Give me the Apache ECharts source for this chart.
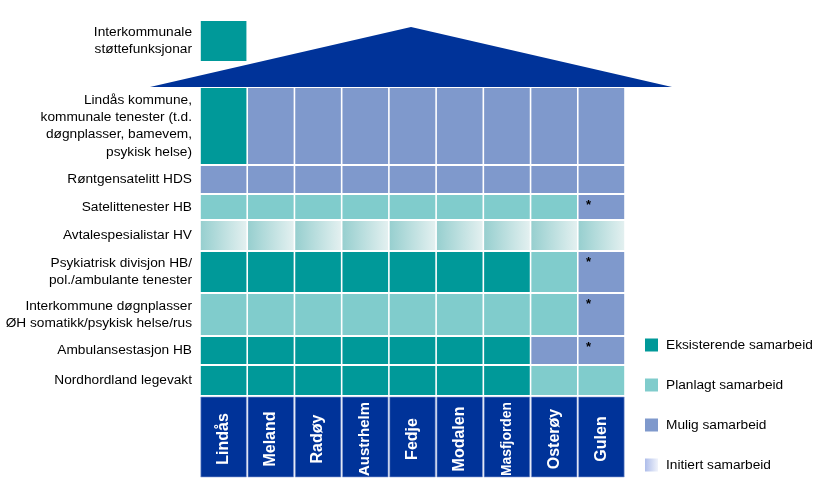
<!DOCTYPE html>
<html>
<head>
<meta charset="utf-8">
<script src="https://cdn.jsdelivr.net/npm/echarts@6/dist/echarts.min.js"></script>
<style>
  html, body { margin: 0; padding: 0; background: #ffffff; }
  #chart { width: 827px; height: 487px; }
</style>
</head>
<body>
<div id="chart"></div>
<script>
// ---------------- DATA ----------------
const municipalities = ['Lindås', 'Meland', 'Radøy', 'Austrhelm', 'Fedje', 'Modalen', 'Masfjorden', 'Osterøy', 'Gulen'];

const supportLabel = 'Interkommunale\nstøttefunksjonar';
const supportStatus = ['E']; // only Lindås

const serviceLabels = [
  'Lindås kommune,\nkommunale tenester (t.d.\ndøgnplasser, bamevem,\npsykisk helse)',
  'Røntgensatelitt HDS',
  'Satelittenester HB',
  'Avtalespesialistar HV',
  'Psykiatrisk divisjon HB/\npol./ambulante tenester',
  'Interkommune døgnplasser\nØH somatikk/psykisk helse/rus',
  'Ambulansestasjon HB',
  'Nordhordland legevakt'
];

const statusCodes = ['E', 'P', 'M', 'I'];
const statusNames = ['Eksisterende samarbeid', 'Planlagt samarbeid', 'Mulig samarbeid', 'Initiert samarbeid'];

const statusMatrix = [
  ['E', 'M', 'M', 'M', 'M', 'M', 'M', 'M', 'M'],
  ['M', 'M', 'M', 'M', 'M', 'M', 'M', 'M', 'M'],
  ['P', 'P', 'P', 'P', 'P', 'P', 'P', 'P', 'M'],
  ['I', 'I', 'I', 'I', 'I', 'I', 'I', 'I', 'I'],
  ['E', 'E', 'E', 'E', 'E', 'E', 'E', 'P', 'M'],
  ['P', 'P', 'P', 'P', 'P', 'P', 'P', 'P', 'M'],
  ['E', 'E', 'E', 'E', 'E', 'E', 'E', 'M', 'M'],
  ['E', 'E', 'E', 'E', 'E', 'E', 'E', 'P', 'P']
];

const asteriskCells = [[2, 8], [4, 8], [5, 8], [6, 8]]; // [service row, municipality]

// ---------------- LAYOUT / STYLE ----------------
const GL = 200, GT = 20, GW = 425, GH = 458;
// vertical slots (in y-axis units = px from grid top): 0 support box, 1..8 services, 9 names
const SLOTS = [[0, 42], [67, 145], [145, 174], [174, 200], [200, 231], [231, 273], [273, 316], [316, 345], [345, 376], [376, 458]];
const FONT = '"Liberation Sans", Arial, sans-serif';
const FS = 13.7;
const NAVY = '#003399';
const lg = (c0, c1) => new echarts.graphic.LinearGradient(0, 0, 1, 0, [{ offset: 0, color: c0 }, { offset: 1, color: c1 }]);
const cellFill = {
  E: '#009999',
  P: '#80CCCC',
  M: '#7F99CC',
  I: lg('#97CFCF', '#E3F0F0')
};
const legendFill = {
  E: '#009999',
  P: '#80CCCC',
  M: '#7F99CC',
  I: lg('#AEBDEA', '#F0F3FB')
};

function isStar(row, col) {
  return asteriskCells.some(a => a[0] === row && a[1] === col);
}

function cellRect(api, col, slot) {
  const [y0, y1] = SLOTS[slot];
  const p0 = api.coord([col, y0]);
  const p1 = api.coord([col + 1, y1]);
  return { x: p0[0] + 0.8, y: p0[1] + 1, width: p1[0] - p0[0] - 1.6, height: p1[1] - p0[1] - 2 };
}

const measureCtx = document.createElement('canvas').getContext('2d');
function nameFontSize(txt, maxLen) {
  measureCtx.font = 'bold 16px ' + FONT;
  const w = measureCtx.measureText(txt).width;
  return w > maxLen ? 16 * maxLen / w : 16;
}

// ---------------- SERIES ----------------
const series = [];

statusCodes.forEach((code, s) => {
  const data = [];
  supportStatus.forEach((c, j) => { if (c === code) data.push([j, 0, 0]); });
  statusMatrix.forEach((row, i) => {
    row.forEach((c, j) => { if (c === code) data.push([j, i + 1, isStar(i, j) ? 1 : 0]); });
  });
  series.push({
    type: 'custom',
    name: statusNames[s],
    coordinateSystem: 'cartesian2d',
    silent: true,
    itemStyle: { color: legendFill[code] },
    data: data,
    renderItem: function (params, api) {
      const col = api.value(0), slot = api.value(1), star = api.value(2);
      const r = cellRect(api, col, slot);
      const children = [{ type: 'rect', shape: r, style: { fill: cellFill[code] } }];
      if (star) {
        children.push({
          type: 'text', x: r.x + 10, y: r.y + 4,
          style: { text: '*', fill: '#000', fontSize: 13, fontWeight: 'bold', fontFamily: FONT, align: 'center', verticalAlign: 'top' }
        });
      }
      return { type: 'group', children: children };
    }
  });
});

// row labels
const allLabels = [supportLabel].concat(serviceLabels);
series.push({
  type: 'custom',
  name: 'labels',
  coordinateSystem: 'cartesian2d',
  silent: true,
  data: allLabels.map((t, i) => [0, i]),
  renderItem: function (params, api) {
    const slot = api.value(1);
    const [y0, y1] = SLOTS[slot];
    const p = api.coord([0, (y0 + y1) / 2]);
    return {
      type: 'text', x: p[0] - 8, y: p[1],
      style: {
        text: allLabels[params.dataIndex], fill: '#000', fontSize: FS, lineHeight: 17.3,
        fontFamily: FONT, align: 'right', verticalAlign: 'middle'
      }
    };
  }
});

// municipality names row
series.push({
  type: 'custom',
  name: 'names',
  coordinateSystem: 'cartesian2d',
  silent: true,
  data: municipalities.map((m, j) => [j, 9]),
  renderItem: function (params, api) {
    const col = api.value(0);
    const r = cellRect(api, col, 9);
    const name = municipalities[params.dataIndex];
    return {
      type: 'group',
      children: [
        { type: 'rect', shape: r, style: { fill: NAVY, stroke: '#8FA3D6', lineWidth: 0.6 } },
        {
          type: 'text', x: r.x + r.width / 2, y: r.y + r.height / 2 + 2, rotation: Math.PI / 2,
          style: {
            text: name, fill: '#ffffff', fontWeight: 'bold', fontSize: nameFontSize(name, 74),
            fontFamily: FONT, align: 'center', verticalAlign: 'middle'
          }
        }
      ]
    };
  }
});

const roofLeft = GL - 50, roofRight = GL + GW + 47;
const option = {
  animation: false,
  backgroundColor: '#ffffff',
  grid: { left: GL, top: GT, width: GW, height: GH },
  xAxis: { type: 'value', min: 0, max: municipalities.length, show: false },
  yAxis: { type: 'value', min: 0, max: GH, inverse: true, show: false },
  legend: {
    orient: 'vertical', left: 640, top: 333,
    icon: 'rect', itemWidth: 13, itemHeight: 13, itemGap: 26,
    selectedMode: false,
    textStyle: { fontSize: FS, fontFamily: FONT, color: '#000', lineHeight: 14, padding: [0, 0, 0, 3] },
    data: statusNames.map((n, s) => ({ name: n, itemStyle: { color: legendFill[statusCodes[s]] } }))
  },
  graphic: [{
    type: 'polygon', silent: true, z: -1,
    shape: { points: [[roofLeft, 87], [(roofLeft + roofRight) / 2, 27], [roofRight, 87]] },
    style: { fill: NAVY }
  }],
  series: series
};

const chart = echarts.init(document.getElementById('chart'), null, { renderer: 'canvas' });
chart.setOption(option);
</script>
</body>
</html>
